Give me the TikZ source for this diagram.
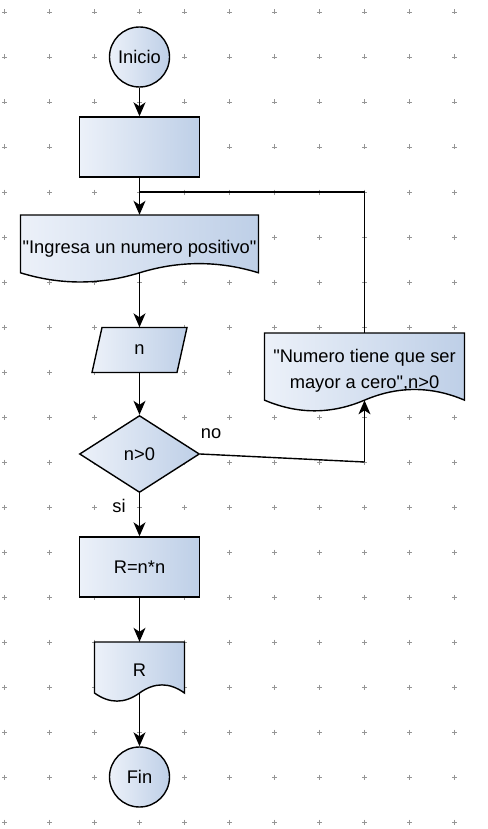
\documentclass[tikz,border=0pt]{standalone}
\usepackage{fontspec}
\setmainfont{Liberation Sans}[Ligatures=TeXOff]
\usetikzlibrary{shapes.geometric,arrows.meta,calc}
\definecolor{fillA}{RGB}{236,241,249}
\definecolor{fillB}{RGB}{190,207,231}
\definecolor{gridc}{RGB}{150,150,150}
\newcommand\docshape[6]{%
  \path[box] (#2,#3) -- (#2+#4,#3) -- (#2+#4,#3+0.85*#5)
    .. controls (#2+0.8333*#4,#3+0.67*#5) and (#2+0.6667*#4,#3+0.67*#5) .. (#2+0.5*#4,#3+0.85*#5)
    .. controls (#2+0.3333*#4,#3+1.03*#5) and (#2+0.1667*#4,#3+1.03*#5) .. (#2,#3+0.85*#5) -- cycle;
  \node[inner sep=0pt, minimum width={#4*1pt}, minimum height={0.85*#5*1pt}] (#1) at (#2+0.5*#4,#3+0.425*#5)
    {\raisebox{-4pt}[\height][\depth]{\begin{tabular}{@{}c@{}}#6\end{tabular}}};%
}
\begin{document}
\begin{tikzpicture}[x=1pt,y=-1pt,
  every node/.style={font=\fontsize{18.3}{26}\selectfont},
  box/.style={draw=black, line width=1.4pt, left color=fillA, right color=fillB, inner sep=0pt},
  flow/.style={draw=black, line width=1.4pt, -{Stealth[length=14pt,width=12pt,inset=4pt]}},
  link/.style={draw=black, line width=1.4pt},
  lbl/.style={inner sep=0pt}]
\useasboundingbox (0,0) rectangle (487,829);
\fill[white] (0,0) rectangle (487,829);
\foreach \i in {0,...,10} {
  \foreach \j in {0,...,18} {
    \draw[gridc, line width=0.8pt] (4.5+45*\i-2.5,12+45*\j) -- (4.5+45*\i+2.5,12+45*\j)
      (4.5+45*\i,12+45*\j-2.5) -- (4.5+45*\i,12+45*\j+2.5);
  }
}
\node[box, circle, minimum size=60pt] (start) at (139.5,57) {Inicio};
\node[box, rectangle, minimum width=120pt, minimum height=60pt] (proc) at (139.5,147) {};
\docshape{in}{20.5}{215}{238}{68}{"Ingresa un numero positivo"}
\path[box] (102,327.5) -- (187,327.5) -- (177,372.5) -- (92,372.5) -- cycle;
\node[inner sep=0pt, minimum width=95pt, minimum height=45pt] (inp) at (139.5,350) {n};
\node[box, diamond, minimum width=120pt, minimum height=77pt] (dec) at (139.5,454) {n>0};
\node[box, rectangle, minimum width=120pt, minimum height=60pt] (proc2) at (139.5,567) {R=n*n};
\docshape{outp}{94.5}{642}{90}{60}{R}
\node[box, circle, minimum size=60pt] (end) at (139.5,777) {Fin};
\docshape{msg}{264.5}{333}{200}{79}{"Numero tiene que ser\\mayor a cero",n>0}
\coordinate (join) at (139.5,192);
\coordinate (nocorner) at (364.5,462);
\draw[flow] (start) -- (proc);
\draw[flow] (proc.south) -- (in.north);
\draw[link] (msg.north) |- (join);
\draw[flow] (in.south) -- (inp.north);
\draw[flow] (inp.south) -- (dec.north);
\draw[flow] (dec.south) -- (proc2.north);
\draw[link] (dec.east) -- (nocorner);
\draw[flow] (nocorner) -- (msg.south);
\draw[flow] (proc2.south) -- (outp.north);
\draw[flow] (outp.south) -- (end.north);
\node[lbl] (nolbl) at (211,434) {no};
\node[lbl] (silbl) at (119,506) {si};
\end{tikzpicture}
\end{document}
